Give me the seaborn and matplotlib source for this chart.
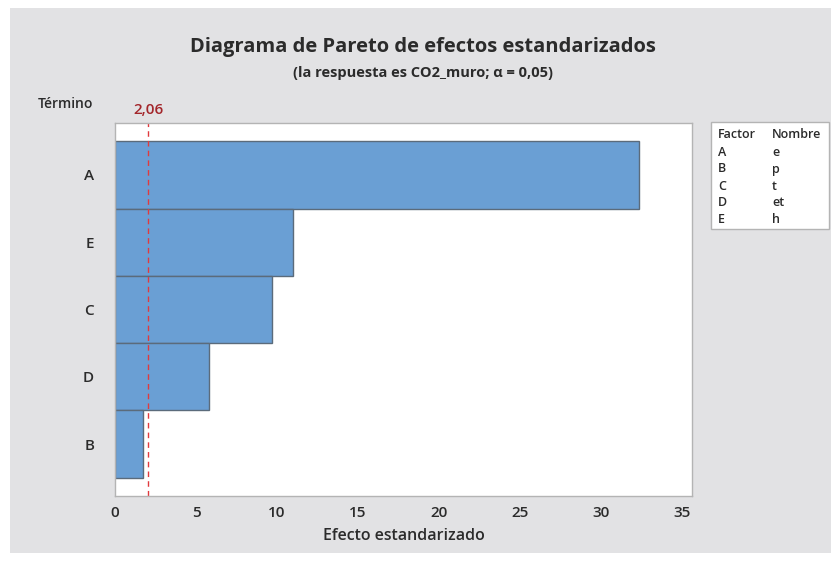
import matplotlib
matplotlib.use("Agg")
import matplotlib.pyplot as plt
from matplotlib.patches import Rectangle
import seaborn as sns
import pandas as pd

# Standardized effects, sorted by magnitude
terms = ["A", "E", "C", "D", "B"]
effects = [32.3, 11.0, 9.7, 5.8, 1.7]
critical_value = 2.06
critical_label = "2,06"
x_ticks = [0, 5, 10, 15, 20, 25, 30, 35]

factor_codes = ["A", "B", "C", "D", "E"]
factor_names = ["e", "p", "t", "et", "h"]

sns.set_theme(style="white")
plt.rcParams["font.family"] = ["Open Sans", "DejaVu Sans"]

W, H = 839, 561
fig = plt.figure(figsize=(W / 100, H / 100), dpi=100)
fig.patch.set_facecolor("white")

def fx(px):
    return px / W

def fy(py):
    return 1 - py / H

BG = "#e2e2e4"
TXT = "#2b2b2b"

# grey panel behind everything
fig.patches.append(Rectangle((fx(10), fy(553)), fx(831) - fx(10), fy(8) - fy(553),
                             transform=fig.transFigure, facecolor=BG, edgecolor="none", zorder=-5))

ax = fig.add_axes([fx(115), fy(496), fx(692) - fx(115), fy(123) - fy(496)])
ax.set_zorder(3)
ax.set_facecolor("white")

df = pd.DataFrame({"Término": terms, "Efecto": effects})
sns.barplot(data=df, x="Efecto", y="Término", orient="h", width=1.0,
            color="#6a9fd4", saturation=1, edgecolor="#5b6b7b", linewidth=1.0, ax=ax)

ax.set_xlim(0, 35.6)
ax.set_ylim(len(terms) - 1 + 0.77, -0.77)
ax.axvline(critical_value, color="#e03a3e", linestyle=(0, (4, 3)), linewidth=1.0)

ax.set_xticks(x_ticks)
ax.set_xticklabels([str(t) for t in x_ticks])
for s in ["top", "right", "left", "bottom"]:
    ax.spines[s].set_color("#b4b4b4")
    ax.spines[s].set_linewidth(1.0)
ax.tick_params(axis="both", which="both", length=4, color="#b4b4b4", width=1,
               labelsize=11, labelcolor=TXT, pad=3)
ax.tick_params(axis="y", pad=11)
for lab in ax.get_xticklabels() + ax.get_yticklabels():
    lab.set_fontweight("semibold")
ax.set_xlabel("Efecto estandarizado", fontsize=11.5, fontweight="semibold", color=TXT, labelpad=6)
ax.set_ylabel("")

# titles
fig.text(fx(423), fy(47), "Diagrama de Pareto de efectos estandarizados", ha="center", va="center",
         fontsize=14.5, fontweight="bold", color=TXT)
fig.text(fx(423), fy(73), "(la respuesta es CO2_muro; α = 0,05)", ha="center", va="center",
         fontsize=10.5, fontweight="bold", color=TXT)
fig.text(fx(65), fy(104), "Término", ha="center", va="center",
         fontsize=10, fontweight="semibold", color=TXT)
ax.text(critical_value, 1.015, critical_label, transform=ax.get_xaxis_transform(),
        ha="center", va="bottom", fontsize=11, fontweight="semibold", color="#a3262b",
        clip_on=False)

# factor legend table
fig.patches.append(Rectangle((fx(711), fy(229)), fx(829) - fx(711), fy(122) - fy(229),
                             transform=fig.transFigure, facecolor="white",
                             edgecolor="#b4b4b4", linewidth=1.0, zorder=1))
row_y = [152, 169, 186, 203, 220]
fs = 9
fig.text(fx(718), fy(134), "Factor", ha="left", va="center", fontsize=fs,
         fontweight="semibold", color=TXT, zorder=2)
fig.text(fx(772), fy(134), "Nombre", ha="left", va="center", fontsize=fs,
         fontweight="semibold", color=TXT, zorder=2)
for code, name, y in zip(factor_codes, factor_names, row_y):
    fig.text(fx(718), fy(y), code, ha="left", va="center", fontsize=fs,
             fontweight="semibold", color=TXT, zorder=2)
    fig.text(fx(772), fy(y), name, ha="left", va="center", fontsize=fs,
             fontweight="semibold", color=TXT, zorder=2)

fig.savefig("out.png", dpi=100, facecolor=fig.get_facecolor())
